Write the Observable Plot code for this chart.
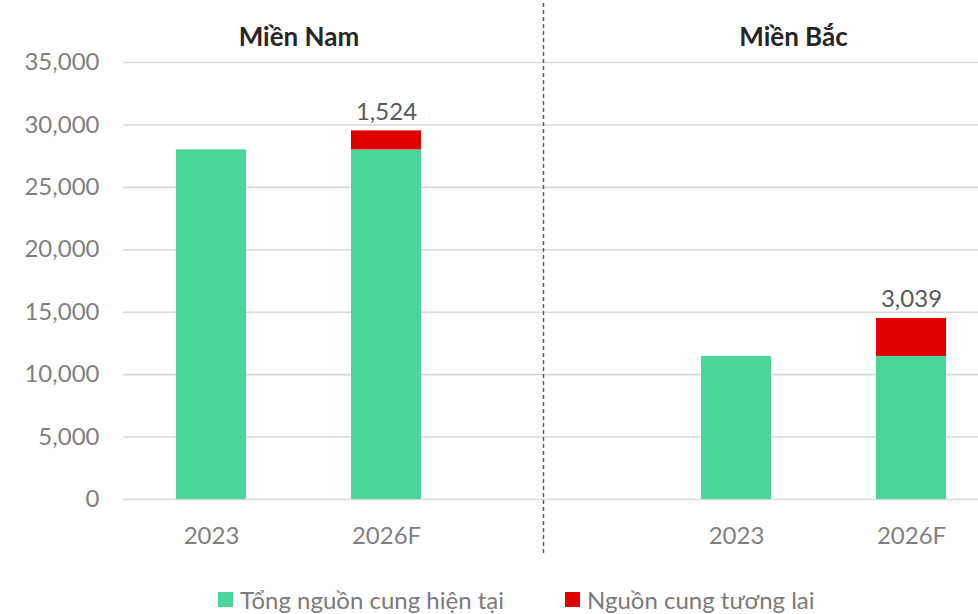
<!DOCTYPE html>
<html>
<head>
<meta charset="utf-8">
<script src="https://cdn.jsdelivr.net/npm/d3@7"></script>
<script src="https://cdn.jsdelivr.net/npm/@observablehq/plot@0.6"></script>
<style>
  html, body { margin: 0; padding: 0; background: #fff; overflow: hidden; width: 978px; height: 614px; }
  #chart svg { display: block; }
  .legend { position: relative; height: 34px; font-family: Lato, "Noto Sans", sans-serif; font-size: 24px; color: #7a7a7a; }
  .legend .item { position: absolute; top: 5px; display: flex; align-items: center; white-space: nowrap; }
  .legend .sw { width: 15px; height: 15px; margin-right: 7px; }
</style>
</head>
<body>
<div id="chart"></div>
<div class="legend" id="legend"></div>
<script>
// ---- data ----
const regions = ["Miền Nam", "Miền Bắc"];
const years = ["2023", "2026F"];
const seriesNames = ["Tổng nguồn cung hiện tại", "Nguồn cung tương lai"];
const currentSupply = [28000, 28000, 11460, 11460];   // Nam 2023, Nam 2026F, Bắc 2023, Bắc 2026F
const futureSupply  = [0, 1524, 0, 3039];
const yTicks = [0, 5000, 10000, 15000, 20000, 25000, 30000, 35000];
const colors = ["#4AD699", "#E00000"];

// ---- build table ----
const keys = [regions[0] + "|" + years[0], regions[0] + "|" + years[1], "gap", regions[1] + "|" + years[0], regions[1] + "|" + years[1]];
const barKeys = keys.filter(k => k !== "gap");
const rows = [];
barKeys.forEach((k, i) => {
  rows.push({key: k, series: seriesNames[0], value: currentSupply[i]});
  rows.push({key: k, series: seriesNames[1], value: futureSupply[i]});
});
const labels = barKeys.map((k, i) => ({key: k, total: currentSupply[i] + futureSupply[i], future: futureSupply[i]}))
  .filter(d => d.future > 0);

const font = "Lato, 'Noto Sans', sans-serif";
const titleStyle = {frameAnchor: "top", lineAnchor: "bottom", dy: -17, fontWeight: "bold", fontSize: 26, fill: "#262626"};

const chart = Plot.plot({
  width: 978,
  height: 580,
  marginTop: 62,
  marginBottom: 81,
  marginLeft: 123,
  marginRight: 0,
  style: {fontFamily: font, fontSize: "24px", background: "#fff", overflow: "visible"},
  x: {type: "band", domain: keys, range: [124, 999], paddingInner: 0.6, paddingOuter: 0.3, label: null},
  y: {domain: [0, 35000], label: null},
  color: {domain: seriesNames, range: colors},
  marks: [
    Plot.ruleY(yTicks, {stroke: "#d9d9d9", strokeWidth: 1.6}),
    Plot.barY(rows, Plot.stackY({x: "key", y: "value", fill: "series", order: seriesNames})),
    Plot.text(labels, {x: "key", y: "total", text: d => d3.format(",")(d.future), dy: -11, lineAnchor: "bottom", fill: "#595959", fontSize: 24}),
    Plot.text([regions[0]], {x: () => keys[0], text: d => d, dx: 87.5, ...titleStyle}),
    Plot.text([regions[1]], {x: () => keys[3], text: d => d, dx: 57, ...titleStyle}),
    Plot.ruleX(["gap"], {x: d => d, dx: -18, stroke: "#3F5A8F", strokeWidth: 1.4, strokeDasharray: "4,3", insetTop: -59, insetBottom: -54}),
    Plot.axisY(yTicks, {tickSize: 0, tickPadding: 24, tickFormat: d3.format(","), fill: "#7f7f7f", fontSize: 24}),
    Plot.axisX({tickSize: 0, tickPadding: 27, tickFormat: d => d === "gap" ? "" : d.split("|")[1], fill: "#7f7f7f", fontSize: 24})
  ]
});
document.getElementById("chart").appendChild(chart);

// legend
const legend = document.getElementById("legend");
const legendX = [218, 565];
seriesNames.forEach((s, i) => {
  const it = document.createElement("div");
  it.className = "item";
  it.style.left = legendX[i] + "px";
  it.innerHTML = `<div class="sw" style="background:${colors[i]}"></div><span>${s}</span>`;
  legend.appendChild(it);
});
</script>
</body>
</html>
